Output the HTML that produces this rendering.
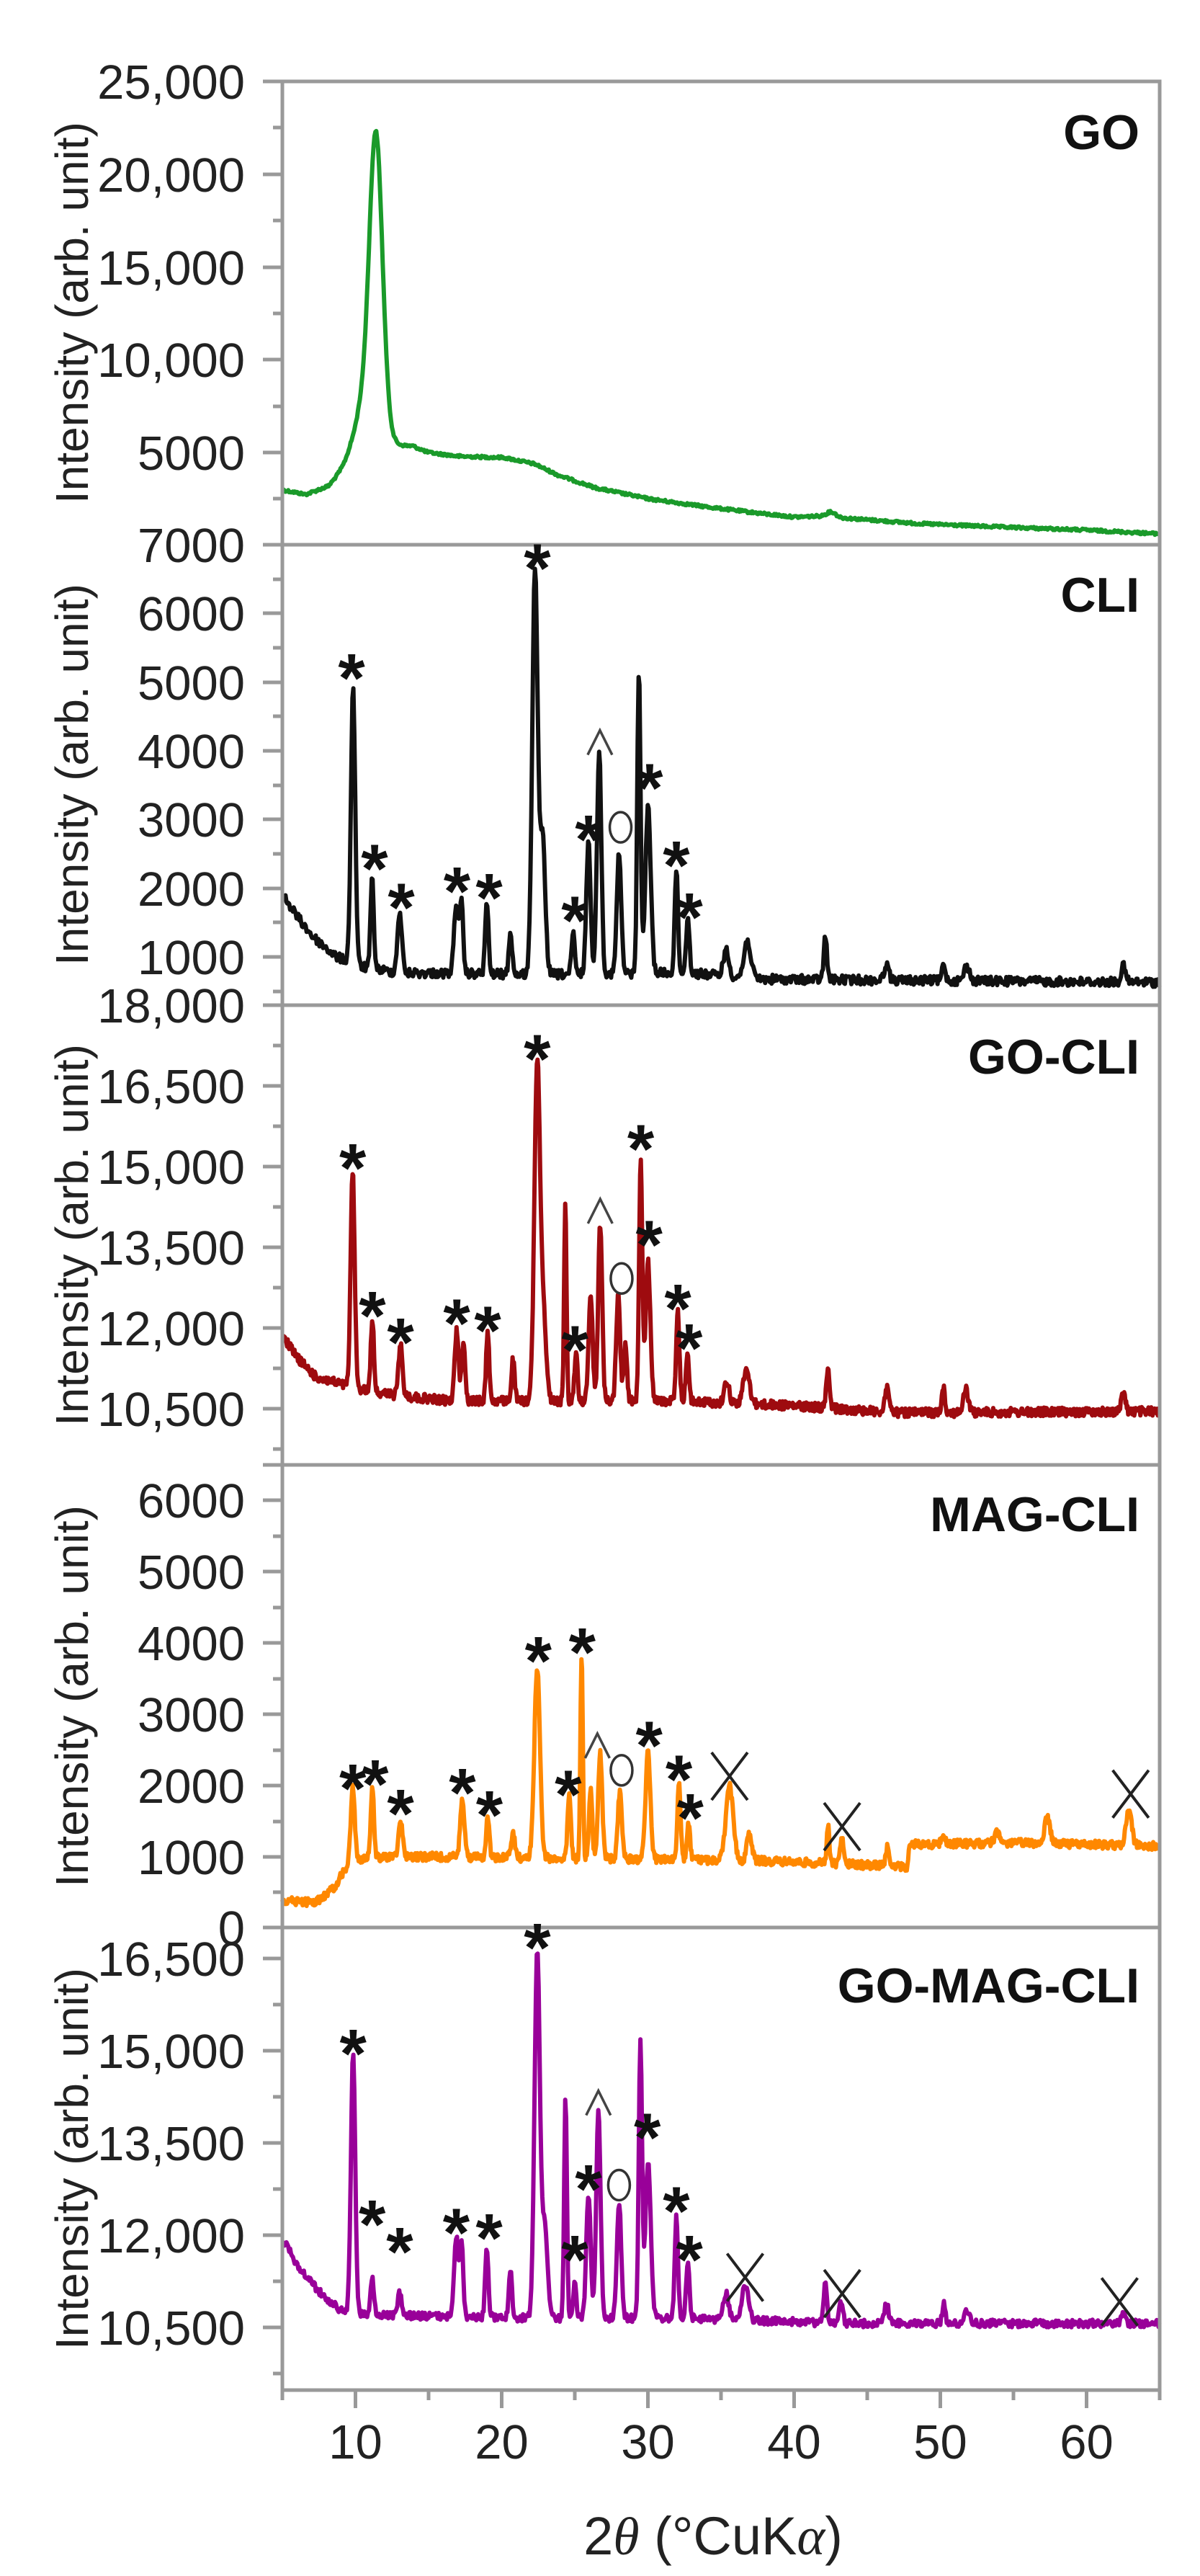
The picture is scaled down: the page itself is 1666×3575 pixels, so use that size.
<!DOCTYPE html>
<html><head><meta charset="utf-8">
<style>
html,body{margin:0;padding:0;background:#fff;}
svg{display:block;}
text{font-family:"Liberation Sans",Arial,sans-serif;}
</style></head>
<body>
<svg id="s" width="1666" height="3575" viewBox="0 0 1666 3575" xmlns="http://www.w3.org/2000/svg">
<rect width="1666" height="3575" fill="#fff"/>
<g id="curves"></g>
<g id="axes" stroke="#999" stroke-width="5" fill="none"></g>
<g id="txt" fill="#222"></g>
<g id="marks"></g>
</svg>
<script>
const NS="http://www.w3.org/2000/svg";
function el(parent,tag,attrs,txt){const e=document.createElementNS(NS,tag);for(const k in attrs)e.setAttribute(k,attrs[k]);if(txt!==undefined)e.textContent=txt;document.getElementById(parent).appendChild(e);return e;}
let seed=12345;function rnd(){seed=(seed*1103515245+12345)%2147483648;return seed/2147483648;}
function interp(pts,x){if(x<=pts[0][0])return pts[0][1];for(let i=1;i<pts.length;i++){if(x<=pts[i][0]){const a=pts[i-1],b=pts[i];return a[1]+(b[1]-a[1])*(x-a[0])/(b[0]-a[0]);}}return pts[pts.length-1][1];}
function curve(T,x0,x1,base,peaks,color,noise,sw){
  let d="";const step=1.2;
  for(let dx=x0;dx<=x1;dx+=step){
    let b=interp(base,dx);let y=b;
    for(const p of peaks){const w=p[2]||6;const h=interp(base,p[0])-p[1];y-=h*Math.exp(-Math.pow((dx-p[0])/w,2));}
    y+=(rnd()-0.5)*noise;
    const X=T.ox+dx*T.sx,Y=T.oy+y*T.sy;
    d+=(d?"L":"M")+X.toFixed(1)+" "+Y.toFixed(1);
  }
  el("curves","path",{d:d,stroke:color,"stroke-width":sw||6,fill:"none","stroke-linejoin":"round"});
}
function star(T,dx,dy){const X=T.ox+dx*T.sx,Y=T.oy+dy*T.sy;el("marks","text",{x:X,y:Y+50,"font-size":96,"font-weight":"bold","text-anchor":"middle",fill:"#111"},"*");}
function caret(T,dx,dy){const X=T.ox+dx*T.sx,Y=T.oy+dy*T.sy;el("marks","path",{d:`M${X-17} ${Y+16}L${X} ${Y-18}L${X+17} ${Y+16}`,stroke:"#444","stroke-width":3.5,fill:"none"});}
function circ(T,dx,dy){const X=T.ox+dx*T.sx,Y=T.oy+dy*T.sy;el("marks","ellipse",{cx:X,cy:Y,rx:15,ry:21,stroke:"#333","stroke-width":3.5,fill:"none"});}
function cross(T,dx,dy){const X=T.ox+dx*T.sx,Y=T.oy+dy*T.sy;el("marks","path",{d:`M${X-25} ${Y-33}L${X+25} ${Y+33}M${X+25} ${Y-33}L${X-25} ${Y+33}`,stroke:"#222","stroke-width":4,fill:"none"});}

const Z1={ox:0,sx:1.061,oy:0,sy:0.897};
const Z2={ox:0,sx:1.061,oy:2400,sy:0.753};
const ZG={ox:392,sx:0.781,oy:1395,sy:0.41};
const ZM={ox:392,sx:0.781,oy:2033,sy:0.4115};

// GO
curve(Z1,370,1518,[[370,758],[400,765],[430,752],[450,725],[470,690],[540,690],[560,700],[600,706],[660,708],[700,718],[730,735],[780,755],[850,772],[930,785],[1000,795],[1040,800],[1080,798],[1100,801],[1200,810],[1300,815],[1420,820],[1518,826]],
 [[492,260,12],[482,620,22],[1088,792,8]],"#1a9a2a",4,6);
// CLI
curve(Z1,370,1518,[[370,1385],[390,1420],[410,1450],[440,1480],[470,1495],[520,1505],[700,1508],[900,1505],[1000,1515],[1518,1520]],
 [[462,1065,4],[487,1360,3],[523,1410,4],[597,1395,4],[604,1400,3],[637,1395,3],[668,1440,3],[700,880,5],[710,1300,5],[750,1445,3],[770,1305,4],[784,1160,4],[810,1320,4],[836,1035,3],[848,1250,5],[885,1345,3],[900,1415,3],[950,1470,5],[978,1455,6],[1080,1450,3],[1160,1490,4],[1235,1490,3],[1265,1495,5],[1470,1495,4]],"#111",14,6);
// GO-CLI
curve(ZG,0,1560,[[0,1120],[30,1200],[60,1260],[100,1280],[140,1300],[200,1320],[300,1340],[700,1340],[900,1355],[1100,1380],[1560,1375]],
 [[125,560,5],[160,1065,4],[210,1150,5],[310,1100,5],[322,1130,4],[365,1110,4],[410,1200,4],[453,200,7],[464,1050,7],[503,680,3],[522,1180,4],[548,975,5],[565,740,5],[597,980,5],[610,1140,4],[637,520,4],[650,870,6],[703,1040,4],[720,1175,4],[790,1270,6],[825,1235,8],[970,1220,4],[1075,1290,5],[1175,1290,4],[1215,1300,6],[1495,1310,5]],"#9e0b0f",30,6);
// MAG-CLI
curve(ZM,0,1560,[[0,1470],[60,1475],[90,1430],[110,1370],[130,1330],[200,1320],[430,1325],[850,1335],[1110,1355],[1116,1280],[1300,1275],[1560,1285]],
 [[125,1090,5],[160,1090,4],[210,1195,5],[320,1120,5],[365,1185,4],[410,1245,5],[453,680,7],[510,1110,4],[532,630,3],[548,1090,4],[565,970,5],[600,1100,5],[650,965,6],[705,1075,4],[722,1210,4],[795,1085,9],[830,1240,6],[970,1210,3],[995,1265,5],[1075,1290,4],[1175,1240,4],[1270,1240,6],[1360,1190,7],[1505,1165,7]],"#ff8800",28,6);
// GO-MAG-CLI
curve(Z2,370,1518,[[370,940],[390,990],[420,1040],[450,1075],[500,1080],[700,1085],[900,1085],[1000,1090],[1100,1095],[1518,1095]],
 [[462,600,4],[487,1010,3],[523,1040,4],[597,935,4],[604,945,3],[637,960,3],[668,1000,3],[703,410,5],[713,920,5],[740,675,2.5],[752,1020,3],[770,855,4],[783,700,4],[810,870,4],[838,570,3],[848,800,5],[885,900,3],[900,985,3],[950,1040,5],[975,1025,6],[1080,1015,3],[1100,1060,4],[1160,1060,4],[1235,1060,3],[1265,1070,5],[1470,1075,4]],"#990099",14,6);

const L=392,R=1610,TOP=113,BOT=3317;
el("axes","path",{d:`M${L} ${TOP}V${BOT}H${R}V${TOP}H365`});
[756,1395,2033,2675].forEach(y=>el("axes","line",{x1:365,y1:y,x2:R,y2:y}));
function yt(list){list.forEach(t=>{el("axes","line",{x1:365,y1:t[0],x2:L,y2:t[0]});if(t[1]!=="")el("txt","text",{x:340,y:t[0]+24,"font-size":67,"text-anchor":"end"},t[1]);});}
function minor(list){list.forEach(y=>el("axes","line",{x1:379,y1:y,x2:L,y2:y}));}
yt([[113,"25,000"],[242,"20,000"],[371,"15,000"],[499,"10,000"],[628,"5000"],[756,"7000"]]);
minor([177,306,435,564,692]);
yt([[851,"6000"],[947,"5000"],[1042,"4000"],[1137,"3000"],[1233,"2000"],[1328,"1000"],[1395,"18,000"]]);
minor([804,899,994,1090,1185,1280,1376]);
yt([[1507,"16,500"],[1619,"15,000"],[1731,"13,500"],[1843,"12,000"],[1955,"10,500"]]);
minor([1451,1563,1675,1787,1899,2011]);
yt([[2082,"6000"],[2181,"5000"],[2280,"4000"],[2379,"3000"],[2478,"2000"],[2577,"1000"],[2675,"0"]]);
minor([2132,2231,2330,2429,2528,2626]);
yt([[2718,"16,500"],[2846,"15,000"],[2974,"13,500"],[3102,"12,000"],[3230,"10,500"]]);
minor([2782,2910,3038,3166,3294]);
const xs=v=>L+(v-5)*(R-L)/60;
for(let v=5;v<=65;v+=5){const X=xs(v);const maj=v%10===0;el("axes","line",{x1:X,y1:BOT,x2:X,y2:BOT+(maj?25:14)});if(maj)el("txt","text",{x:X,y:3412,"font-size":67,"text-anchor":"middle"},String(v));}
[[434],[1075],[1714],[2354],[2996]].forEach(c=>{el("txt","text",{x:0,y:0,"font-size":64,"text-anchor":"middle",transform:`translate(122 ${c[0]}) rotate(-90)`},"Intensity (arb. unit)");});
const xt=el("txt","text",{x:990,y:3545,"font-size":74,"text-anchor":"middle"});
xt.innerHTML='2<tspan font-style="italic" font-family="Liberation Serif">θ</tspan> (°CuK<tspan font-style="italic" font-family="Liberation Serif">α</tspan>)';
[["GO",207],["CLI",849],["GO-CLI",1490],["MAG-CLI",2125],["GO-MAG-CLI",2779]].forEach(p=>el("txt","text",{x:1582,y:p[1],"font-size":68,"font-weight":"bold","text-anchor":"end",fill:"#111"},p[0]));
[[460,1030],[490,1325],[525,1385],[598,1360],[640,1370],[703,860],[752,1405],[770,1280],[850,1200],[885,1320],[902,1400]].forEach(p=>star(Z1,p[0],p[1]));
caret(Z1,785,1150);circ(Z1,812,1280);
[[125,510],[160,1010],[210,1100],[310,1035],[365,1060],[453,140],[520,1125],[637,445],[652,770],[703,985],[723,1120]].forEach(p=>star(ZG,p[0],p[1]));
caret(ZG,565,700);circ(ZG,603,925);
[[125,1050],[165,1035],[210,1135],[320,1065],[368,1140],[455,620],[533,590],[508,1070],[652,905],[705,1020],[725,1150]].forEach(p=>star(ZM,p[0],p[1]));
caret(ZM,560,950);circ(ZM,603,1030);cross(ZM,795,1050);cross(ZM,995,1220);cross(ZM,1508,1110);
[[462,575],[487,890],[523,940],[597,905],[640,915],[703,380],[752,955],[770,825],[847,730],[885,865],[902,955]].forEach(p=>star(Z2,p[0],p[1]));
caret(Z2,783,690);circ(Z2,810,840);cross(Z2,975,1010);cross(Z2,1102,1040);cross(Z2,1465,1055);
</script>
</body></html>
